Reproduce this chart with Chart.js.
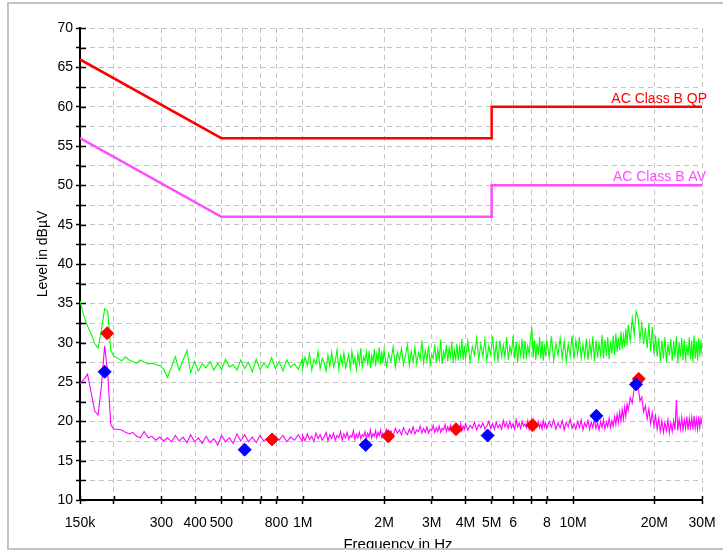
<!DOCTYPE html>
<html>
<head>
<meta charset="utf-8">
<script src="https://cdn.jsdelivr.net/npm/chart.js@4.4.1/dist/chart.umd.min.js"></script>
<style>
  html, body { margin: 0; padding: 0; background: #fff; }
  #emi { display: block; background: #fff; }
</style>
</head>
<body>
<canvas id="emi" width="723" height="553"></canvas>
<script>
// limit lines (MHz / dBuV)
const limitFreq = [0.15, 0.5, 5, 5, 30];
const qpLimit = [66, 56, 56, 60, 60];
const avLimit = [56, 46, 46, 50, 50];
const limitNames = ['AC Class B QP', 'AC Class B AV'];

// sweep (MHz)
const sweepFreq = [
  0.150,0.155,0.160,0.165,0.170,0.175,0.180,0.185,0.190,0.195,
  0.200,0.207,0.214,0.221,0.228,0.235,0.243,0.251,0.259,0.268,
  0.277,0.286,0.296,0.306,0.316,0.327,0.338,0.349,0.361,0.373,
  0.385,0.398,0.411,0.425,0.439,0.454,0.469,0.485,0.501,0.518,
  0.535,0.553,0.571,0.590,0.610,0.630,0.651,0.673,0.695,0.718,
  0.742,0.767,0.792,0.818,0.845,0.873,0.902,0.932,0.963,0.995,
  1.00,1.02,1.04,1.06,1.08,1.10,1.12,1.14,1.16,1.18,1.20,1.22,1.24,1.26,1.28,1.30,1.32,1.34,1.36,1.38,1.40,1.42,1.44,1.46,1.48,
  1.50,1.52,1.54,1.56,1.58,1.60,1.62,1.64,1.66,1.68,1.70,1.72,1.74,1.76,1.78,1.80,1.82,1.84,1.86,1.88,1.90,1.92,1.94,1.96,1.98,
  2.00,2.04,2.08,2.12,2.16,2.20,2.24,2.28,2.32,2.36,2.40,2.44,2.48,2.52,2.56,2.60,2.64,2.68,2.72,2.76,2.80,2.84,2.88,2.92,2.96,
  3.00,3.04,3.08,3.12,3.16,3.20,3.24,3.28,3.32,3.36,3.40,3.44,3.48,3.52,3.56,3.60,3.64,3.68,3.72,3.76,3.80,3.84,3.88,3.92,3.96,
  4.00,4.08,4.16,4.24,4.32,4.40,4.48,4.56,4.64,4.72,4.80,4.88,4.96,5.04,5.12,5.20,5.28,5.36,5.44,5.52,5.60,5.68,5.76,5.84,5.92,
  6.00,6.08,6.16,6.24,6.32,6.40,6.48,6.56,6.64,6.72,6.80,6.88,6.96,7.04,7.12,7.20,7.28,7.36,7.44,7.52,7.60,7.68,7.76,7.84,7.92,
  8.00,8.16,8.32,8.48,8.64,8.80,8.96,9.12,9.28,9.44,9.60,9.76,9.92,10.08,10.24,10.40,10.56,10.72,10.88,11.04,11.20,11.36,11.52,11.68,11.84,
  12.00,12.16,12.32,12.48,12.64,12.80,12.96,13.12,13.28,13.44,13.60,13.76,13.92,14.08,14.24,14.40,14.56,14.72,14.88,15.04,15.20,15.36,15.52,15.68,15.84,
  16.00,16.28,16.56,16.84,17.12,17.40,17.68,17.96,18.24,18.52,18.80,19.08,19.36,19.64,19.92,20.20,20.48,20.76,21.04,21.32,21.60,21.88,22.16,22.44,22.72,
  23.00,23.28,23.56,23.84,24.12,24.40,24.68,24.96,25.24,25.52,25.80,26.08,26.36,26.64,26.92,27.20,27.48,27.76,28.04,28.32,28.60,28.88,29.16,29.44,29.72,30.00
];
const peakTrace = [
  35.3,33.4,32.1,31.1,29.9,29.3,31.6,34.3,34.0,29.0,
  28.3,28.0,27.7,28.2,27.8,27.6,27.4,27.8,27.5,27.3,
  27.4,27.2,27.1,26.6,25.6,26.9,28.2,26.5,27.8,29.0,
  26.2,27.6,26.4,27.3,26.8,27.6,26.5,27.4,26.6,27.9,
  26.9,27.2,26.5,27.8,26.7,27.5,26.3,27.9,26.6,27.4,
  26.8,28.1,26.7,27.6,26.4,27.8,26.9,27.3,26.6,27.9,
  26.8,28.2,27.1,28.6,26.5,27.9,27.3,28.9,26.7,28.0,27.5,26.4,28.4,27.0,28.8,26.9,27.7,29.1,26.6,28.3,27.2,28.7,26.8,27.6,28.5,
  26.7,28.9,27.4,28.1,26.6,28.6,27.3,29.3,26.9,28.2,27.6,28.8,27.1,29.0,26.8,28.4,27.5,29.2,27.0,28.6,27.7,29.4,27.2,28.9,27.4,
  29.1,27.0,28.6,27.6,29.5,26.9,28.8,27.8,29.3,27.2,28.4,29.7,27.1,28.9,27.5,29.4,27.3,28.7,27.9,30.3,27.4,29.0,27.7,29.6,27.2,
  28.5,28.0,29.8,27.5,29.2,27.8,30.4,27.3,28.9,28.1,29.7,27.6,29.3,28.2,30.1,27.5,29.0,27.9,29.9,27.7,29.4,28.3,30.5,27.8,29.6,
  28.0,30.2,27.6,29.5,28.4,30.6,27.9,29.8,28.2,30.4,27.7,29.6,28.5,30.8,28.0,29.9,27.6,30.3,28.3,29.7,28.1,30.7,27.8,29.5,28.6,
  30.9,28.0,30.1,27.5,29.8,28.4,30.5,27.9,30.2,28.2,29.6,28.5,30.6,32.0,28.1,30.3,27.8,29.9,28.4,30.7,28.0,30.2,27.7,29.8,28.3,
  30.4,28.1,30.8,27.7,29.9,28.4,30.6,28.0,30.2,27.6,29.8,28.3,30.9,27.9,30.3,28.5,30.7,28.0,29.7,28.2,30.5,27.8,30.1,28.4,30.8,
  27.6,30.3,28.1,29.9,28.5,31.0,28.0,30.4,28.3,30.7,27.9,30.2,28.6,30.9,28.4,31.2,28.8,30.6,29.0,31.4,29.2,30.9,29.5,31.8,29.7,
  32.3,30.2,33.1,31.0,34.0,33.2,30.4,32.4,29.8,31.9,29.3,32.5,28.9,32.0,28.6,30.9,28.2,30.6,27.6,30.3,28.0,30.7,27.5,29.9,28.3,
  30.5,27.7,30.2,28.1,30.8,27.4,30.0,28.2,30.6,27.8,30.4,27.6,29.8,28.3,30.7,27.9,30.3,27.5,30.9,28.0,30.1,27.7,30.6,28.2,30.4,28.5
];
const avgTrace = [
  24.8,25.3,26.0,23.6,21.3,20.8,24.5,29.6,26.0,19.6,
  19.0,19.0,18.9,18.6,18.4,18.6,18.1,17.9,18.7,17.9,
  18.1,17.6,18.0,17.5,17.9,17.4,18.2,17.5,18.0,17.3,
  18.3,17.4,17.9,17.2,18.1,17.3,17.8,17.0,18.2,17.4,
  17.9,17.2,18.4,17.5,18.3,17.4,18.0,17.3,18.2,17.5,
  17.9,17.3,18.1,17.6,18.2,17.4,18.0,17.6,18.3,17.5,
  18.2,17.5,18.4,17.7,18.1,17.4,18.5,17.8,18.3,17.6,18.0,18.6,17.5,18.3,17.8,18.5,17.6,18.2,17.9,18.7,17.6,18.4,17.9,18.6,17.7,
  18.2,18.0,18.8,17.7,18.4,17.9,18.6,17.8,18.3,18.1,18.7,17.8,18.5,18.0,18.9,17.9,18.4,18.1,18.8,17.9,18.6,18.2,18.9,18.0,18.5,
  18.2,19.0,18.4,18.8,18.1,19.1,18.5,18.9,18.3,19.2,18.6,18.3,19.0,18.5,19.3,18.4,18.9,18.7,19.4,18.5,19.1,18.6,19.3,18.5,19.0,
  18.8,19.5,18.6,19.2,18.7,19.4,18.6,19.1,18.9,19.6,18.7,19.3,18.8,19.5,18.9,19.2,18.7,19.6,18.9,19.3,19.0,19.7,18.8,19.4,19.0,
  19.7,18.9,19.5,19.1,19.9,18.9,19.6,19.2,19.8,19.0,19.4,20.0,19.1,19.7,19.0,19.9,19.2,19.6,19.0,20.1,19.3,19.8,19.1,20.0,19.2,
  19.7,19.0,20.2,19.3,19.8,19.1,20.0,19.4,19.7,19.2,20.1,19.0,19.8,19.3,20.2,19.1,19.9,19.4,20.0,19.2,19.7,19.0,20.1,19.3,19.8,
  19.1,20.0,19.3,20.2,19.0,19.8,19.2,20.1,18.9,19.9,19.3,20.3,19.1,19.7,19.0,20.0,19.2,20.2,18.9,19.8,19.3,20.1,19.0,19.9,19.2,
  20.3,19.1,19.8,18.9,20.0,19.2,20.2,19.0,19.9,19.3,20.4,19.2,20.1,19.4,20.6,19.6,20.9,19.8,21.2,20.0,21.5,20.3,21.8,20.6,22.2,
  21.4,23.0,22.3,24.2,25.3,24.6,22.6,23.1,21.2,22.0,20.3,21.6,19.7,21.1,19.4,20.7,19.0,20.4,18.7,20.1,18.6,19.9,18.8,20.2,18.5,
  19.8,18.7,20.1,18.9,22.7,18.8,20.3,19.0,20.5,18.9,20.2,19.1,20.6,18.9,20.4,19.2,20.5,18.9,20.7,19.1,20.3,19.0,20.6,19.2,20.4,19.6
];

// final measurement markers
const qpFreq = [0.189, 0.770, 2.07, 3.69, 7.08, 17.5];
const qpLevel = [31.2, 17.7, 18.1, 19.0, 19.5, 25.4];
const avFreq = [0.185, 0.610, 1.71, 4.83, 12.2, 17.1];
const avLevel = [26.3, 16.4, 17.0, 18.2, 20.7, 24.7];

// axis ticks
const xTickValues = [0.15,0.2,0.3,0.4,0.5,0.6,0.7,0.8,1,2,3,4,5,6,7,8,10,20,30];
const xTickLabels = ['150k','','300','400','500','','','800','1M','2M','3M','4M','5M','6','','8','10M','20M','30M'];
const yTickValues = [10,12.5,15,17.5,20,22.5,25,27.5,30,32.5,35,37.5,40,42.5,45,47.5,50,52.5,55,57.5,60,62.5,65,67.5,70];
const xTitle = 'Frequency in Hz';
const yTitle = 'Level in dBµV';

const pts = (xs, ys) => xs.map((v, i) => ({x: v, y: ys[i]}));
const FONT = 'Arial, "Liberation Sans", sans-serif';

const extras = {
  id: 'extras',
  beforeDatasetsDraw(chart) {
    const {ctx, chartArea: a, scales: {x, y}} = chart;
    ctx.save();
    ctx.strokeStyle = '#000';
    ctx.lineWidth = 1.5;
    y.ticks.forEach(t => {
      const py = Math.round(y.getPixelForValue(t.value)) + 0.5;
      ctx.beginPath(); ctx.moveTo(a.left, py); ctx.lineTo(a.left + 6, py); ctx.stroke();
    });
    x.ticks.forEach(t => {
      const px = Math.round(x.getPixelForValue(t.value)) + 0.5;
      ctx.beginPath(); ctx.moveTo(px, a.bottom); ctx.lineTo(px, a.bottom - 4); ctx.stroke();
    });
    ctx.restore();
  },
  afterDraw(chart) {
    const {ctx, chartArea: a, scales: {y}} = chart;
    ctx.save();
    // limit names
    ctx.font = '14px ' + FONT;
    ctx.textAlign = 'right';
    ctx.textBaseline = 'alphabetic';
    ctx.fillStyle = '#ff0000';
    ctx.fillText(limitNames[0], a.right + 5, y.getPixelForValue(qpLimit[4]) - 4);
    ctx.fillStyle = '#ff4cff';
    ctx.fillText(limitNames[1], a.right + 4, y.getPixelForValue(avLimit[4]) - 4);
    // axis titles
    ctx.fillStyle = '#000';
    ctx.textAlign = 'center';
    ctx.font = '15px ' + FONT;
    ctx.fillText(xTitle, 398, 549);
    ctx.fillStyle = '#fff';
    ctx.fillRect(0, 550, 723, 3);
    ctx.save();
    ctx.translate(47, 254);
    ctx.rotate(-Math.PI / 2);
    ctx.fillStyle = '#000';
    ctx.font = '14px ' + FONT;
    ctx.fillText(yTitle, 0, 0);
    ctx.restore();
    // outer frame
    ctx.strokeStyle = '#c4c4c4';
    ctx.lineWidth = 2;
    ctx.beginPath();
    ctx.moveTo(730, 3); ctx.lineTo(8, 3); ctx.lineTo(8, 549); ctx.lineTo(730, 549);
    ctx.stroke();
    ctx.restore();
  }
};

new Chart(document.getElementById('emi'), {
  type: 'line',
  data: {
    datasets: [
      {label: 'AV final', data: pts(avFreq, avLevel), showLine: false, pointStyle: 'rectRot',
       pointRadius: 6.5, pointBackgroundColor: '#0000ff', pointBorderColor: '#0000ff', pointBorderWidth: 1, order: 0},
      {label: 'QP final', data: pts(qpFreq, qpLevel), showLine: false, pointStyle: 'rectRot',
       pointRadius: 6.5, pointBackgroundColor: '#ff0000', pointBorderColor: '#ff0000', pointBorderWidth: 1, order: 1},
      {label: 'QP limit', data: pts(limitFreq, qpLimit), borderColor: '#ff0000', borderWidth: 2.5,
       pointRadius: 0, tension: 0, order: 2},
      {label: 'AV limit', data: pts(limitFreq, avLimit), borderColor: '#ff4cff', borderWidth: 2.5,
       pointRadius: 0, tension: 0, order: 3},
      {label: 'Peak', data: pts(sweepFreq, peakTrace), borderColor: '#00ff00', borderWidth: 1.1,
       pointRadius: 0, tension: 0, order: 4},
      {label: 'Average', data: pts(sweepFreq, avgTrace), borderColor: '#ff00ff', borderWidth: 1.1,
       pointRadius: 0, tension: 0, order: 5}
    ]
  },
  options: {
    responsive: false,
    animation: false,
    devicePixelRatio: 1,
    layout: {padding: {left: 0, top: 28, right: 21, bottom: 0}},
    plugins: {legend: {display: false}, tooltip: {enabled: false}},
    scales: {
      x: {
        type: 'logarithmic',
        min: 0.15,
        max: 30,
        afterBuildTicks: axis => { axis.ticks = xTickValues.map(v => ({value: v})); },
        afterFit: axis => { axis.height = 53; axis.paddingLeft = 0; axis.paddingRight = 0; },
        ticks: {
          autoSkip: false, maxRotation: 0, minRotation: 0, padding: 11,
          color: '#000', font: {family: FONT, size: 14},
          callback: (v, i) => xTickLabels[i]
        },
        grid: {color: '#c3c3c3', lineWidth: 1, tickColor: '#000', tickLength: 4, tickWidth: 1.5},
        border: {color: '#000', width: 2, dash: [5, 4]},
        title: {display: false}
      },
      y: {
        min: 10,
        max: 70,
        afterBuildTicks: axis => { axis.ticks = yTickValues.map(v => ({value: v})); },
        afterFit: axis => { axis.width = 80; },
        ticks: {
          autoSkip: false, padding: 3,
          color: '#000', font: {family: FONT, size: 14},
          callback: v => (v % 5 === 0 ? String(v) : '')
        },
        grid: {color: '#c3c3c3', lineWidth: 1, tickColor: '#000', tickLength: 4, tickWidth: 1.5},
        border: {color: '#000', width: 2, dash: [5, 4]},
        title: {display: false}
      }
    }
  },
  plugins: [extras]
});
</script>
</body>
</html>
